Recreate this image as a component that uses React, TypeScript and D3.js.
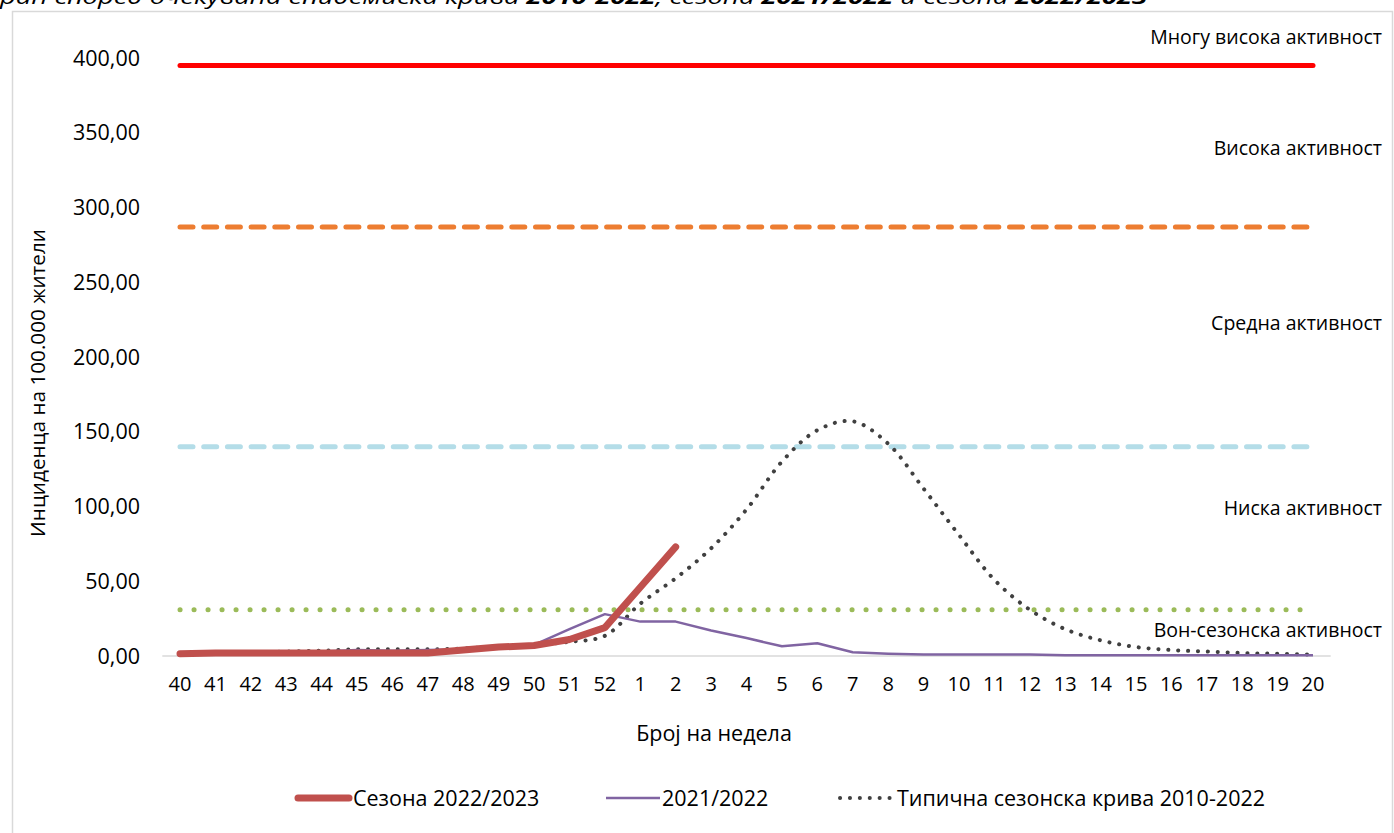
import React from 'react';
import * as d3 from 'd3';

const weeks = ['40','41','42','43','44','45','46','47','48','49','50','51','52','1','2','3','4','5','6','7','8','9','10','11','12','13','14','15','16','17','18','19','20'];
const season2223 = [1.5,2,2,2,2,2,2,2,4,6,7,11,19,46,73];
const season2122 = [1,1.5,2,2.5,3,4,3.5,4,4.5,6,7.5,18,28,23,23,17,12,6.5,8.5,2.5,1.5,1,1,1,1,0.5,0.5,0.5,0.5,0.5,0.5,0.5,0.5];
const typical = [1,1.5,2,3,3.5,4.5,4.5,4.5,5,6.5,7.5,9.5,13.5,35,52,72,98,130,151,157,142,112,81,51,31,18,10.5,6,4,3,2,1.5,1];
const thresholdValues = [395,287,140,31];
const yTicks = [0,50,100,150,200,250,300,350,400];
const zoneLabels = ['Многу висока активност','Висока активност','Средна активност','Ниска активност','Вон-сезонска активност'];
const zoneLabelValues = [414,340,222.7,99,17.4];
const legendLabels = ['Сезона 2022/2023','2021/2022','Типична сезонска крива 2010-2022'];
const titleParts = [
  {t:'ран според очекувана епидемиска крива ', b:false},
  {t:'2010-2022', b:true},
  {t:', сезона ', b:false},
  {t:'2021/2022', b:true},
  {t:' и сезона ', b:false},
  {t:'2022/2023', b:true},
];

const W = 1394, H = 833;
const FONT = '"Open Sans", sans-serif';

export default function App() {
  const x = d3.scalePoint<string>().domain(weeks).range([180, 1313]);
  const step = x.step();
  const y = d3.scaleLinear().domain([0, 400]).range([656, 58]);
  const line = d3.line<number>().x((_, i) => x(weeks[i])!).y(d => y(d));
  const smooth = d3.line<number>().x((_, i) => x(weeks[i])!).y(d => y(d)).curve(d3.curveCatmullRom.alpha(0.5));
  const fmt = (v: number) => d3.format('.2f')(v).replace('.', ',');
  const thrLine = (v: number) => line(weeks.map(() => v))!;

  const thrStyles = [
    { stroke: '#FF0000', dash: undefined as string | undefined },
    { stroke: '#ED7D31', dash: '13 10.7' },
    { stroke: '#B4DDE8', dash: '13 10.7' },
    { stroke: '#9BBB59', dash: '0.1 13.9' },
  ];

  return (
    <svg width={W} height={H} style={{ position: 'absolute', left: 0, top: 0, display: 'block', background: '#fff' }} fontFamily={FONT}>
      <text x={0} y={4} fontSize={20} fontStyle="italic" textLength={1147} lengthAdjust="spacingAndGlyphs" fill="#000">
        {titleParts.map((p, i) => <tspan key={i} fontWeight={p.b ? 'bold' : 'normal'}>{p.t}</tspan>)}
      </text>
      <rect x={12.5} y={11.5} width={1380} height={840} fill="none" stroke="#D9D9D9" strokeWidth={1.5} />

      <line x1={180 - step / 2} x2={1313 + step / 2} y1={y(0)} y2={y(0)} stroke="#D9D9D9" strokeWidth={1.5} />

      {yTicks.map(t => (
        <text key={t} x={140} y={y(t)} dy="0.35em" textAnchor="end" fontSize={21.5} fill="#000">{fmt(t)}</text>
      ))}
      {weeks.map(w => (
        <text key={w} x={x(w)!} y={684} dy="0.35em" textAnchor="middle" fontSize={20} fill="#000">{w}</text>
      ))}

      {thresholdValues.map((v, i) => (
        <path key={i} d={thrLine(v)} fill="none" stroke={thrStyles[i].stroke} strokeWidth={5}
          strokeDasharray={thrStyles[i].dash} strokeLinecap="round" />
      ))}

      {zoneLabels.map((l, i) => (
        <text key={l} x={1382} y={y(zoneLabelValues[i])} dy="0.35em" textAnchor="end" fontSize={19.5} fill="#000">{l}</text>
      ))}

      <path d={smooth(typical)!} fill="none" stroke="#404040" strokeWidth={4} strokeDasharray="0.1 9.8" strokeLinecap="round" />
      <path d={line(season2122)!} fill="none" stroke="#8064A2" strokeWidth={2.5} strokeLinejoin="round" />
      <path d={line(season2223)!} fill="none" stroke="#C0504D" strokeWidth={7} strokeLinejoin="round" strokeLinecap="round" />

      <text x={714} y={733} dy="0.35em" textAnchor="middle" fontSize={21.5} fill="#000">Број на недела</text>
      <text transform={`translate(38,${383}) rotate(-90)`} dy="0.35em" textAnchor="middle" fontSize={20.7} fill="#000">Инциденца на 100.000 жители</text>

      <line x1={298} x2={349} y1={798} y2={798} stroke="#C0504D" strokeWidth={7} strokeLinecap="round" />
      <text x={353} y={798} dy="0.35em" fontSize={21.5} fill="#000">{legendLabels[0]}</text>
      <line x1={606} x2={660} y1={798} y2={798} stroke="#8064A2" strokeWidth={2.5} />
      <text x={662} y={798} dy="0.35em" fontSize={21.5} fill="#000">{legendLabels[1]}</text>
      <line x1={840} x2={893} y1={798} y2={798} stroke="#404040" strokeWidth={4} strokeDasharray="0.1 9.8" strokeLinecap="round" />
      <text x={897} y={798} dy="0.35em" fontSize={21.5} fill="#000">{legendLabels[2]}</text>
    </svg>
  );
}
